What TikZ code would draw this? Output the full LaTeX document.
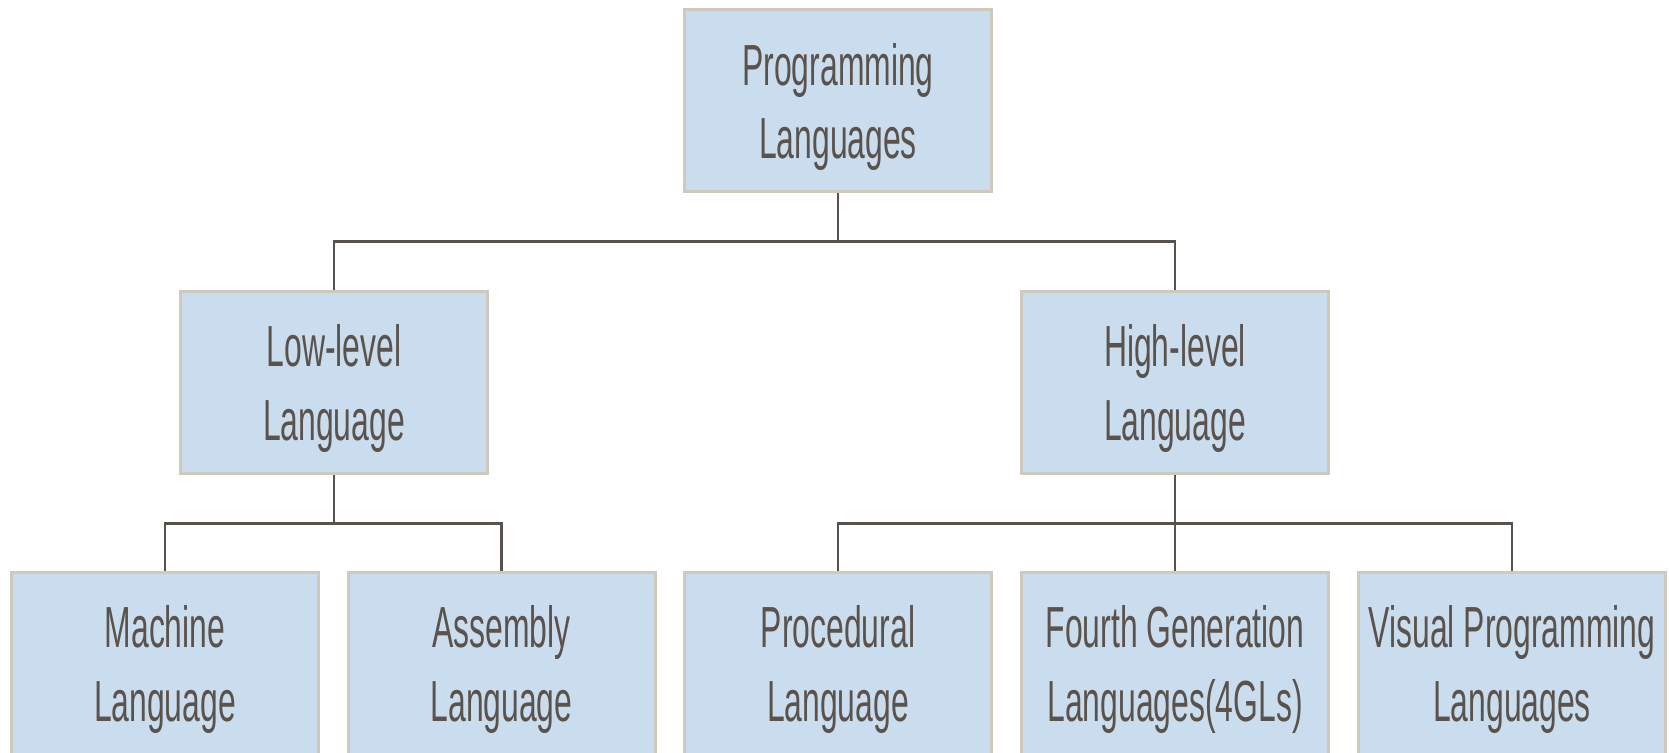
\documentclass[tikz,border=0pt]{standalone}
\usepackage{fontspec}
\newfontfamily\narrowsans{Liberation Sans}[FakeStretch=0.55]
\definecolor{boxfill}{HTML}{C9DDEF}
\definecolor{boxedge}{HTML}{CFC8BC}
\definecolor{inkgray}{HTML}{5B534B}
\definecolor{wire}{HTML}{58524D}
\tikzset{
  langbox/.style={rectangle, draw=boxedge, line width=3pt, fill=boxfill,
    minimum width=307pt, minimum height=182pt, inner sep=0pt,
    align=center, text=inkgray, text depth=0pt,
    font=\narrowsans\fontsize{58}{73.4}\selectfont},
  conn/.style={draw=wire, line width=2.5pt}
}
\begin{document}
\begin{tikzpicture}[x=1pt,y=-1pt]
\useasboundingbox (0,0) rectangle (1669,752);
\clip (0,0) rectangle (1669,752);
\fill[white] (0,0) rectangle (1669,752);

% root and the two language levels
\node[langbox] (root) at (838,100.8) {Programming\\Languages};
\node[langbox] (low)  at (334,382.5) {Low-level\\Language};
\node[langbox] (high) at (1175,382.5) {High-level\\Language};

% concrete language families
\node[langbox] (machine)  at (165,663.5)  {Machine\\Language};
\node[langbox] (assembly) at (501.5,663.5) {Assembly\\Language};
\node[langbox] (proc)     at (838,663.5)  {Procedural\\Language};
\node[langbox] (fourth)   at (1175,663.5) {Fourth Generation\\Languages(4GLs)};
\node[langbox] (visual)   at (1512,663.5) {Visual Programming\\Languages};

% bus lines
\coordinate (bus1) at (0,241.7);
\coordinate (bus2) at (0,523.3);

\draw[conn] (root.south) -- (root.south |- bus1);
\draw[conn] (low.north) -- (low.north |- bus1) -- (high.north |- bus1) -- (high.north);

\draw[conn] (low.south) -- (low.south |- bus2);
\draw[conn] (machine.north) -- (machine.north |- bus2) -- (assembly.north |- bus2) -- (assembly.north);

\draw[conn] (high.south) -- (fourth.north);
\draw[conn] (proc.north) -- (proc.north |- bus2) -- (visual.north |- bus2) -- (visual.north);
\end{tikzpicture}
\end{document}
